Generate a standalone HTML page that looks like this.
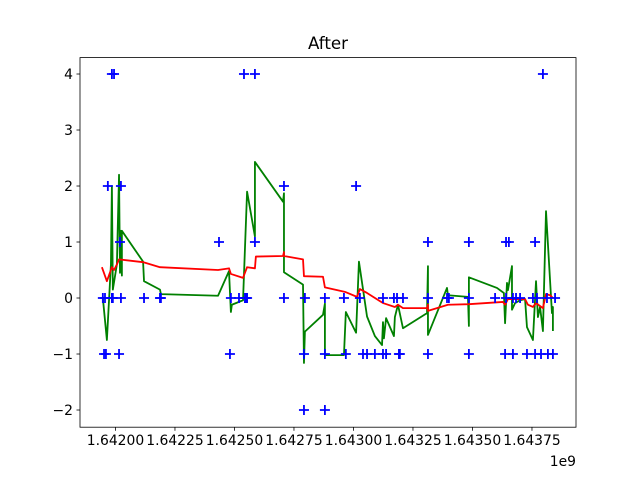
<!DOCTYPE html>
<html><head><meta charset="utf-8"><style>
html,body{margin:0;padding:0;background:#fff;}
svg{display:block;font-family:"DejaVu Sans","Liberation Sans",sans-serif;}
</style></head><body>
<svg id="chart" width="640" height="480" viewBox="0 0 640 480" xmlns="http://www.w3.org/2000/svg">
<rect width="640" height="480" fill="#fff"/>
<text x="328" y="49" text-anchor="middle" font-size="16.7">After</text>
<g id="plot"></g>
</svg>
<script>
const xTicks=[1642.00,1642.25,1642.50,1642.75,1643.00,1643.25,1643.50,1643.75];
const xTickLabels=["1.64200","1.64225","1.64250","1.64275","1.64300","1.64325","1.64350","1.64375"];
const yTicks=[-2,-1,0,1,2,3,4];
const yTickLabels=["\u22122","\u22121","0","1","2","3","4"];
const m4=[1641.985,1641.994,1642.540,1642.586,1643.796];
const m2=[1641.968,1642.023,1642.708,1643.011];
const m1=[1642.019,1642.435,1642.586,1643.313,1643.485,1643.641,1643.653,1643.763];
const m0=[1641.947,1641.956,1641.985,1641.989,1642.023,1642.120,1642.187,1642.191,1642.485,1642.519,1642.548,1642.544,1642.553,1642.708,1642.796,1642.880,1642.960,1643.027,1643.124,1643.170,1643.183,1643.208,1643.313,1643.393,1643.401,1643.485,1643.595,1643.641,1643.670,1643.683,1643.700,1643.754,1643.771,1643.813,1643.847];
const mN1=[1641.952,1641.960,1642.015,1642.481,1642.792,1642.880,1642.968,1643.040,1643.057,1643.090,1643.124,1643.137,1643.191,1643.195,1643.313,1643.485,1643.637,1643.670,1643.729,1643.763,1643.788,1643.817,1643.838];
const mN2=[1642.792,1642.880];
const greenX=[1641.947,1641.964,1641.981,1641.985,1641.989,1642.006,1642.015,1642.019,1642.023,1642.027,1642.027,1642.116,1642.120,1642.187,1642.191,1642.431,1642.477,1642.485,1642.489,1642.536,1642.553,1642.586,1642.586,1642.704,1642.708,1642.708,1642.788,1642.792,1642.796,1642.872,1642.880,1642.880,1642.960,1642.968,1643.011,1643.023,1643.057,1643.090,1643.120,1643.124,1643.128,1643.137,1643.170,1643.174,1643.187,1643.208,1643.309,1643.313,1643.313,1643.393,1643.397,1643.481,1643.485,1643.485,1643.603,1643.632,1643.637,1643.645,1643.649,1643.666,1643.666,1643.679,1643.700,1643.721,1643.729,1643.754,1643.767,1643.775,1643.784,1643.796,1643.809,1643.834,1643.838,1643.838];
const greenY=[0,-0.75,0.6,2.0,0.15,0.6,2.2,0.45,1.2,0.4,1.2,0.65,0.3,0.15,0.07,0.04,0.48,-0.25,-0.12,-0.04,1.9,1.1,2.43,1.72,1.87,0.46,0.24,-1.16,-0.6,-0.3,-0.1,-1.02,-1.02,-0.25,-0.62,0.65,-0.33,-0.68,-0.84,-0.43,-0.72,-0.36,-0.68,-0.34,-0.12,-0.54,-0.27,0.57,-0.66,0.18,0.05,0.02,-0.5,0.37,0.18,0.09,-0.45,0.27,0.14,0.57,-0.21,-0.09,-0.04,-0.02,-0.52,-0.75,0.3,-0.34,-0.16,-0.59,1.55,-0.27,-0.16,-0.59];
const redX=[1641.943,1641.964,1641.985,1641.994,1642.006,1642.015,1642.116,1642.187,1642.431,1642.477,1642.485,1642.536,1642.553,1642.586,1642.590,1642.704,1642.708,1642.708,1642.788,1642.792,1642.872,1642.880,1642.964,1643.015,1643.027,1643.057,1643.124,1643.174,1643.187,1643.208,1643.309,1643.313,1643.313,1643.397,1643.485,1643.628,1643.637,1643.649,1643.721,1643.733,1643.754,1643.767,1643.796,1643.809,1643.826,1643.838];
const redY=[0.55,0.3,0.55,0.5,0.6,0.69,0.64,0.55,0.5,0.53,0.43,0.36,0.55,0.53,0.74,0.75,0.82,0.75,0.69,0.39,0.38,0.19,0.11,0.02,0.16,0.09,-0.09,-0.16,-0.12,-0.18,-0.18,-0.12,-0.23,-0.12,-0.11,-0.07,-0.12,-0.02,-0.02,-0.12,-0.16,-0.09,-0.18,0.07,0.05,0];

const L=80,R=576,T=57.6,B=427.2;
const xMin=1641.851,xMax=1643.935,yMin=-2.307,yMax=4.293;
const sx=v=>L+(v-xMin)/(xMax-xMin)*(R-L);
const sy=v=>B-(v-yMin)/(yMax-yMin)*(B-T);
const NS="http://www.w3.org/2000/svg";
const plot=document.getElementById('plot');
function mk(tag,attrs,parent){const e=document.createElementNS(NS,tag);for(const k in attrs)e.setAttribute(k,attrs[k]);(parent||plot).appendChild(e);return e;}

function line(xs,ys,color,name){
  const d=xs.map((x,i)=>(i?'L':'M')+sx(x).toFixed(2)+','+sy(ys[i]).toFixed(2)).join('');
  const p=mk('path',{d:d,fill:'none',stroke:color,'stroke-width':1.8,'stroke-linejoin':'round'});
  
  
}
line(greenX,greenY,'#008000','green-series-line');
line(redX,redY,'#ff0000','red-series-line');

const groups=[[m4,4],[m2,2],[m1,1],[m0,0],[mN1,-1],[mN2,-2]];
groups.forEach(([xs,yv])=>{
  xs.forEach(x=>{
    const cx=sx(x),cy=sy(yv);
    const p=mk('path',{d:`M${cx-5},${cy}H${cx+5}M${cx},${cy-5}V${cy+5}`,stroke:'#0000ff','stroke-width':1.8,fill:'none'});
    
    
  });
});

const frame=mk('rect',{x:L,y:T,width:R-L,height:B-T,fill:'none',stroke:'#000','stroke-width':0.8});



xTicks.forEach((t,i)=>{
  const x=sx(t);
  const tk=mk('line',{x1:x,x2:x,y1:B,y2:B+3.5,stroke:'#000','stroke-width':0.8});
  
  
  const tx=mk('text',{x:x,y:B+18,'text-anchor':'middle','font-size':13.9});
  tx.textContent=xTickLabels[i];
  
  
});
yTicks.forEach((t,i)=>{
  const y=sy(t);
  const tk=mk('line',{x1:L-3.5,x2:L,y1:y,y2:y,stroke:'#000','stroke-width':0.8});
  
  
  const tx=mk('text',{x:L-7,y:y+5,'text-anchor':'end','font-size':13.9});
  tx.textContent=yTickLabels[i];
  
  
});
const off=mk('text',{x:576,y:466,'text-anchor':'end','font-size':13.9});
off.textContent='1e9';


</script>
</body></html>
